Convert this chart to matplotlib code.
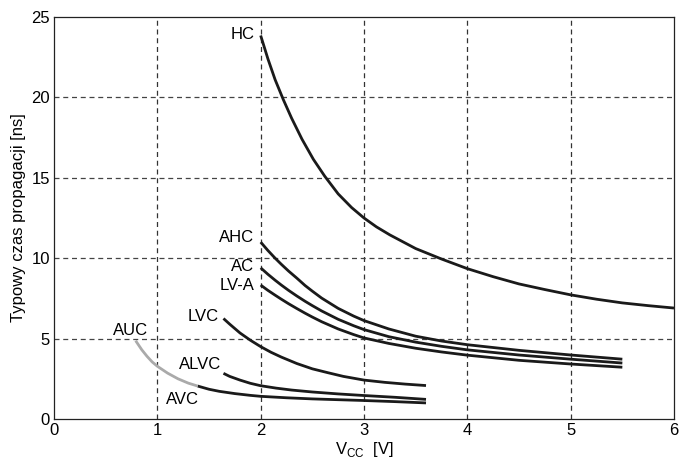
import matplotlib
matplotlib.use('Agg')
import matplotlib.pyplot as plt

plt.rcParams['font.family'] = ['Liberation Sans', 'DejaVu Sans']
plt.rcParams['mathtext.fontset'] = 'custom'
plt.rcParams['mathtext.rm'] = 'Liberation Sans'

# Vcc [V] -> czas propagacji [ns]
hc_x = [2.0, 2.07, 2.14, 2.22, 2.3, 2.4, 2.51, 2.62, 2.75, 2.88, 3.0, 3.12, 3.25, 3.5, 3.75,
        4.0, 4.25, 4.5, 4.75, 5.0, 5.25, 5.5, 5.75, 6.0]
hc_y = [23.85, 22.4, 21.1, 19.85, 18.7, 17.4, 16.15, 15.1, 14.0, 13.15, 12.5, 11.95, 11.45, 10.6, 9.95,
        9.35, 8.85, 8.4, 8.05, 7.72, 7.45, 7.22, 7.05, 6.9]

ahc_x = [2.0, 2.07, 2.14, 2.2, 2.27, 2.35, 2.43, 2.5, 2.59, 2.75, 2.9, 3.0, 3.24, 3.5, 3.75,
         4.0, 4.5, 5.0, 5.5]
ahc_y = [11.0, 10.48, 10.0, 9.62, 9.2, 8.76, 8.3, 7.95, 7.52, 6.88, 6.4, 6.12, 5.6, 5.15, 4.85,
         4.62, 4.27, 3.98, 3.72]

ac_x = [2.0, 2.07, 2.14, 2.2, 2.27, 2.35, 2.43, 2.5, 2.59, 2.75, 2.9, 3.0, 3.24, 3.5, 3.75,
        4.0, 4.5, 5.0, 5.5]
ac_y = [9.4, 9.0, 8.63, 8.33, 8.0, 7.65, 7.32, 7.05, 6.72, 6.2, 5.8, 5.56, 5.12, 4.78, 4.52,
        4.3, 3.98, 3.72, 3.48]

lva_x = [2.0, 2.07, 2.14, 2.2, 2.27, 2.35, 2.43, 2.5, 2.59, 2.75, 2.9, 3.0, 3.24, 3.5, 3.75,
         4.0, 4.5, 5.0, 5.5]
lva_y = [8.33, 8.0, 7.7, 7.45, 7.17, 6.87, 6.58, 6.34, 6.05, 5.6, 5.25, 5.04, 4.7, 4.4, 4.17,
         3.97, 3.65, 3.42, 3.22]

lvc_x = [1.64, 1.7, 1.8, 1.9, 2.0, 2.1, 2.2, 2.35, 2.5, 2.65, 2.8, 3.0, 3.2, 3.4, 3.6]
lvc_y = [6.25, 5.9, 5.35, 4.9, 4.5, 4.15, 3.85, 3.45, 3.12, 2.88, 2.65, 2.42, 2.28, 2.17, 2.08]

alvc_x = [1.64, 1.7, 1.8, 1.9, 2.0, 2.15, 2.3, 2.5, 2.75, 3.0, 3.3, 3.6]
alvc_y = [2.84, 2.65, 2.42, 2.22, 2.07, 1.92, 1.8, 1.68, 1.56, 1.46, 1.35, 1.22]

avc_x = [1.39, 1.5, 1.6, 1.75, 1.9, 2.0, 2.25, 2.5, 2.75, 3.0, 3.3, 3.6]
avc_y = [2.05, 1.85, 1.72, 1.58, 1.47, 1.41, 1.32, 1.25, 1.2, 1.15, 1.08, 1.0]

auc_x = [0.79, 0.85, 0.9, 0.95, 1.0, 1.1, 1.2, 1.3, 1.39]
auc_y = [4.87, 4.3, 3.9, 3.55, 3.28, 2.85, 2.5, 2.23, 2.05]

fig = plt.figure(figsize=(6.79, 4.59), dpi=100)
ax = fig.add_axes([54/679, 40/459, 620/679, 402/459])

ax.set_xlim(0, 6)
ax.set_ylim(0, 25)
ax.set_xticks(range(0, 7))
ax.set_yticks(range(0, 26, 5))
ax.tick_params(length=0, labelsize=12, pad=3)
for s in ax.spines.values():
    s.set_linewidth(0.9)
    s.set_color('#222222')

for v in range(1, 6):
    ax.axvline(v, color='#333333', lw=0.9, ls=(0, (4, 3)), zorder=1)
for v in range(5, 25, 5):
    ax.axhline(v, color='#444444', lw=0.9, ls=(0, (4, 3)), zorder=1)

k = dict(color='#1a1a1a', lw=2.0, solid_capstyle='butt', solid_joinstyle='round', zorder=3)
ax.plot(hc_x, hc_y, **k)
ax.plot(ahc_x, ahc_y, **k)
ax.plot(ac_x, ac_y, **k)
ax.plot(lva_x, lva_y, **k)
ax.plot(lvc_x, lvc_y, **k)
ax.plot(alvc_x, alvc_y, **k)
ax.plot(avc_x, avc_y, **k)
ax.plot(auc_x, auc_y, color='#aaaaaa', lw=2.0, solid_capstyle='butt', zorder=3)

fs = 12
ax.text(1.94, 23.9, 'HC', ha='right', va='center', fontsize=fs)
ax.text(1.94, 11.3, 'AHC', ha='right', va='center', fontsize=fs)
ax.text(1.94, 9.47, 'AC', ha='right', va='center', fontsize=fs)
ax.text(1.94, 8.29, 'LV-A', ha='right', va='center', fontsize=fs)
ax.text(1.59, 6.4, 'LVC', ha='right', va='center', fontsize=fs)
ax.text(0.907, 5.49, 'AUC', ha='right', va='center', fontsize=fs)
ax.text(1.62, 3.42, 'ALVC', ha='right', va='center', fontsize=fs)
ax.text(1.403, 1.22, 'AVC', ha='right', va='center', fontsize=fs)

ax.set_xlabel(r'V$_{\rm CC}$  [V]', fontsize=12, labelpad=1)
ax.set_ylabel('Typowy czas propagacji [ns]', fontsize=12, labelpad=4)

fig.savefig('out.png', dpi=100)
